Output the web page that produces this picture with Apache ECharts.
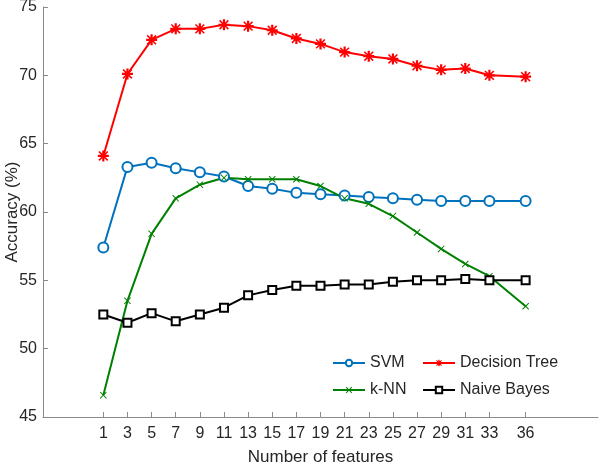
<!DOCTYPE html>
<html><head><meta charset="utf-8">
<script src="https://cdn.jsdelivr.net/npm/echarts@6/dist/echarts.min.js"></script>
<style>html,body{margin:0;padding:0;background:#fff}#c{width:600px;height:465px}</style>
</head><body><div id="c"></div>
<script>
const features = [1,3,5,7,9,11,13,15,17,19,21,23,25,27,29,31,33,36];
const xTicks = [1,3,5,7,9,11,13,15,17,19,21,23,25,27,29,31,33,36];
const svm = [57.4,63.3,63.6,63.2,62.9,62.6,61.9,61.7,61.4,61.3,61.2,61.1,61.0,60.9,60.8,60.8,60.8,60.8];
const dtree = [64.1,70.1,72.6,73.4,73.4,73.7,73.6,73.3,72.7,72.3,71.7,71.4,71.2,70.7,70.4,70.5,70.0,69.9];
const knn = [46.6,53.5,58.4,61.0,62.0,62.5,62.4,62.4,62.4,61.9,61.0,60.6,59.7,58.5,57.3,56.2,55.3,53.1];
const nb = [52.5,51.9,52.6,52.0,52.5,53.0,53.9,54.3,54.6,54.6,54.7,54.7,54.9,55.0,55.0,55.1,55.0,55.0];

const pair = arr => features.map((f,i)=>[f,arr[i]]);
const FONT = 'Liberation Sans, Arial, sans-serif';
const xPath = 'path://M1,0 L5,4 L9,0 L10,1 L6,5 L10,9 L9,10 L5,6 L1,10 L0,9 L4,5 L0,1 Z';
const starPath = 'path://M4,0 H6 V10 H4 Z M0,4 H10 V6 H0 Z M1.5,0.5 L5,4 L8.5,0.5 L9.5,1.5 L6,5 L9.5,8.5 L8.5,9.5 L5,6 L1.5,9.5 L0.5,8.5 L4,5 L0.5,1.5 Z';
const AX = '#8a8a8a', TX = '#262626';

const chart = echarts.init(document.getElementById('c'));
chart.setOption({
  animation:false,
  textStyle:{fontFamily:FONT},
  grid:{left:43,right:2,top:7,bottom:48,outerBoundsMode:'none',containLabel:false},
  xAxis:{type:'value',min:-4,max:42,
    name:'Number of features',nameLocation:'middle',nameGap:32,nameMoveOverlap:false,
    nameTextStyle:{fontSize:17,color:TX,fontFamily:FONT},
    axisLine:{onZero:false,lineStyle:{color:AX,width:1}},
    axisTick:{inside:true,length:5,customValues:xTicks,lineStyle:{color:AX}},
    axisLabel:{customValues:xTicks,fontSize:16,color:TX,margin:9,fontFamily:FONT},
    splitLine:{show:false}},
  yAxis:{type:'value',min:45,max:75,interval:5,
    name:'Accuracy (%)',nameLocation:'middle',nameGap:22,nameRotate:90,nameMoveOverlap:false,
    nameTextStyle:{fontSize:17,color:TX,fontFamily:FONT},
    axisLine:{show:true,onZero:false,lineStyle:{color:AX,width:1}},
    axisTick:{show:true,inside:true,length:5,lineStyle:{color:AX}},
    axisLabel:{fontSize:16,color:TX,margin:6,fontFamily:FONT},
    splitLine:{show:false}},
  legend:[
    {data:['SVM','k-NN'],orient:'vertical',left:327,top:350,itemGap:11,itemWidth:32,itemHeight:8,
     textStyle:{fontSize:16,color:TX,fontFamily:FONT}},
    {data:['Decision Tree','Naive Bayes'],orient:'vertical',left:417,top:350,itemGap:11,itemWidth:32,itemHeight:8,
     textStyle:{fontSize:16,color:TX,fontFamily:FONT}}
  ],
  series:[
    {name:'SVM',type:'line',data:pair(svm),symbol:'emptyCircle',symbolSize:10,
     lineStyle:{color:'#0072BD',width:2},itemStyle:{color:'#0072BD',borderWidth:2}},
    {name:'Decision Tree',type:'line',data:pair(dtree),symbol:starPath,symbolSize:11,
     lineStyle:{color:'#FF0000',width:2},itemStyle:{color:'#FF0000'}},
    {name:'k-NN',type:'line',data:pair(knn),symbol:xPath,symbolSize:7,
     lineStyle:{color:'#008000',width:2},itemStyle:{color:'#008000'}},
    {name:'Naive Bayes',type:'line',data:pair(nb),symbol:'emptyRect',symbolSize:8,
     lineStyle:{color:'#000000',width:2},itemStyle:{color:'#000000',borderWidth:2}}
  ]
});
</script></body></html>
